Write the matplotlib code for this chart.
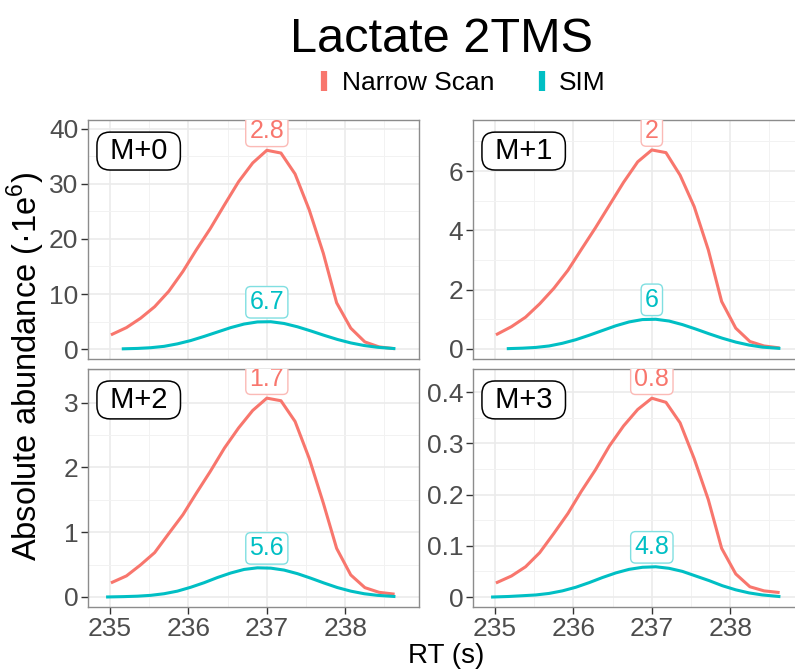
import numpy as np
import matplotlib
matplotlib.use('Agg')
import matplotlib.pyplot as plt
from matplotlib.lines import Line2D
from matplotlib.ticker import MultipleLocator, FuncFormatter

plt.rcParams['font.family'] = ['Liberation Sans', 'DejaVu Sans']
plt.rcParams['mathtext.fontset'] = 'custom'
plt.rcParams['mathtext.rm'] = 'Liberation Sans'

# retention times (s)
narrow_rt = [235.03, 235.21, 235.39, 235.57, 235.75, 235.93, 236.10, 236.28, 236.46, 236.64,
             236.82, 237.00, 237.18, 237.36, 237.54, 237.72, 237.89, 238.07, 238.25, 238.43, 238.61]
sim_rt = [234.97, 235.17, 235.35, 235.52, 235.69, 235.86, 236.03, 236.20, 236.37, 236.54, 236.71,
          236.88, 237.05, 237.22, 237.39, 237.56, 237.73, 237.90, 238.07, 238.24, 238.41, 238.62]

# abundances (x1e6)
narrow_m0 = [2.7, 3.9, 5.6, 7.7, 10.5, 14.1, 18.0, 21.9, 26.2, 30.4, 33.8, 36.1, 35.6, 31.8, 25.3, 17.4, 8.4, 3.8, 1.3, 0.4, 0.1]
narrow_m1 = [0.50, 0.75, 1.07, 1.52, 2.04, 2.65, 3.35, 4.08, 4.85, 5.62, 6.31, 6.71, 6.62, 5.86, 4.80, 3.34, 1.60, 0.70, 0.25, 0.10, 0.04]
narrow_m2 = [0.227, 0.325, 0.495, 0.685, 0.98, 1.27, 1.60, 1.94, 2.30, 2.61, 2.88, 3.07, 3.03, 2.71, 2.14, 1.45, 0.75, 0.34, 0.144, 0.072, 0.046]
narrow_m3 = [0.0286, 0.041, 0.059, 0.0865, 0.124, 0.163, 0.206, 0.248, 0.295, 0.334, 0.366, 0.388, 0.380, 0.340, 0.270, 0.190, 0.095, 0.045, 0.020, 0.012, 0.009]

sim_m0 = [np.nan, 0.05, 0.12, 0.25, 0.5, 0.95, 1.55, 2.3, 3.1, 3.9, 4.55, 4.93, 4.97, 4.65, 4.05, 3.3, 2.5, 1.75, 1.12, 0.65, 0.33, 0.1]
sim_m1 = [np.nan, 0.01, 0.025, 0.05, 0.1, 0.19, 0.31, 0.46, 0.62, 0.78, 0.91, 0.99, 1.0, 0.94, 0.82, 0.67, 0.51, 0.36, 0.23, 0.13, 0.06, 0.02]
sim_m2 = [0.0, 0.005, 0.012, 0.025, 0.05, 0.09, 0.15, 0.22, 0.30, 0.37, 0.425, 0.45, 0.445, 0.415, 0.36, 0.29, 0.215, 0.145, 0.09, 0.05, 0.025, 0.008]
sim_m3 = [0.0, 0.001, 0.0025, 0.004, 0.007, 0.012, 0.019, 0.028, 0.038, 0.047, 0.054, 0.058, 0.059, 0.056, 0.05, 0.041, 0.032, 0.022, 0.014, 0.008, 0.004, 0.001]

isotopes = ['M+0', 'M+1', 'M+2', 'M+3']
narrow_labels = ['2.8', '2', '1.7', '0.8']
sim_labels = ['6.7', '6', '5.6', '4.8']

RED = '#F8766D'
CYAN = '#00BFC4'
RED_LIGHT = '#FBBAB6'
CYAN_LIGHT = '#80DFE1'

narrow_all = [narrow_m0, narrow_m1, narrow_m2, narrow_m3]
sim_all = [sim_m0, sim_m1, sim_m2, sim_m3]

fig = plt.figure(figsize=(7.95, 6.7), dpi=100)

W, H = 795, 670
# panel boxes in pixels: left, top, right, bottom
boxes = [(88, 120, 419, 359), (473, 120, 804, 359),
         (88, 369, 419, 607), (473, 369, 804, 607)]
ylims = [(-1.8, 41.6), (-0.34, 7.72), (-0.155, 3.52), (-0.0195, 0.445)]
ysteps = [10, 2, 1, 0.1]

for k in range(4):
    l, t, r, b = boxes[k]
    ax = fig.add_axes([l / W, 1 - b / H, (r - l) / W, (b - t) / H])
    ax.set_xlim(234.72, 238.94)
    ax.set_ylim(*ylims[k])

    ax.plot(narrow_rt, narrow_all[k], color=RED, lw=2.2, zorder=3, solid_joinstyle='round')
    ax.plot(sim_rt, sim_all[k], color=CYAN, lw=2.2, zorder=3, solid_joinstyle='round')

    ipk = int(np.argmax(narrow_all[k]))
    xlab = narrow_rt[ipk]
    ax.annotate(narrow_labels[k], xy=(xlab, narrow_all[k][ipk]), xytext=(0, 14),
                textcoords='offset points', ha='center', va='center', fontsize=18, color=RED,
                bbox=dict(boxstyle='round,pad=0.15,rounding_size=0.2', fc='white', ec=RED_LIGHT, lw=1),
                clip_on=True, zorder=4)
    ax.annotate(sim_labels[k], xy=(xlab, np.nanmax(sim_all[k])), xytext=(0, 14),
                textcoords='offset points', ha='center', va='center', fontsize=18, color=CYAN,
                bbox=dict(boxstyle='round,pad=0.15,rounding_size=0.2', fc='white', ec=CYAN_LIGHT, lw=1),
                clip_on=True, zorder=4)

    ax.text(0.042, 0.87, ' ' + isotopes[k] + ' ', transform=ax.transAxes, ha='left', va='center',
            fontsize=21, zorder=5,
            bbox=dict(boxstyle='round,pad=0.17,rounding_size=0.45', fc='white', ec='black', lw=1.1))

    ax.xaxis.set_major_locator(MultipleLocator(1))
    ax.xaxis.set_minor_locator(MultipleLocator(0.5))
    ax.yaxis.set_major_locator(MultipleLocator(ysteps[k]))
    ax.yaxis.set_minor_locator(MultipleLocator(ysteps[k] / 2))
    ax.yaxis.set_major_formatter(FuncFormatter(lambda v, p: '%g' % round(v, 6)))
    ax.xaxis.set_major_formatter(FuncFormatter(lambda v, p: '%g' % v))

    ax.set_axisbelow(True)
    ax.grid(which='major', color='#EBEBEB', lw=1.2)
    ax.grid(which='minor', color='#F2F2F2', lw=0.7)
    ax.tick_params(which='minor', length=0)
    ax.tick_params(which='major', length=5, width=1, color='#333333', labelcolor='#4D4D4D',
                   labelsize=19, pad=2)
    if k < 2:
        ax.tick_params(axis='x', which='major', bottom=False, labelbottom=False)
    for s in ax.spines.values():
        s.set_color('#8C8C8C')
        s.set_linewidth(1.0)

fig.text(442 / W, 1 - 52 / H, 'Lactate 2TMS', ha='center', va='baseline', fontsize=35)

handles = [Line2D([], [], color=RED, marker='|', linestyle='none', markersize=15, markeredgewidth=4.5),
           Line2D([], [], color=CYAN, marker='|', linestyle='none', markersize=15, markeredgewidth=4.5)]
fig.legend(handles, ['Narrow Scan', 'SIM'], loc='center', bbox_to_anchor=(461 / W, 1 - 83 / H), ncol=2,
           frameon=False, fontsize=19, handlelength=0.6, handletextpad=0.35, columnspacing=1.5,
           borderpad=0, borderaxespad=0)

fig.text(26 / W, 1 - 366 / H, 'Absolute abundance (·1e$^6$)', rotation=90, ha='center', va='center',
         fontsize=23.5)
fig.text(446 / W, 1 - 663 / H, 'RT (s)', ha='center', va='baseline', fontsize=20)

fig.savefig('out.png', dpi=100)
